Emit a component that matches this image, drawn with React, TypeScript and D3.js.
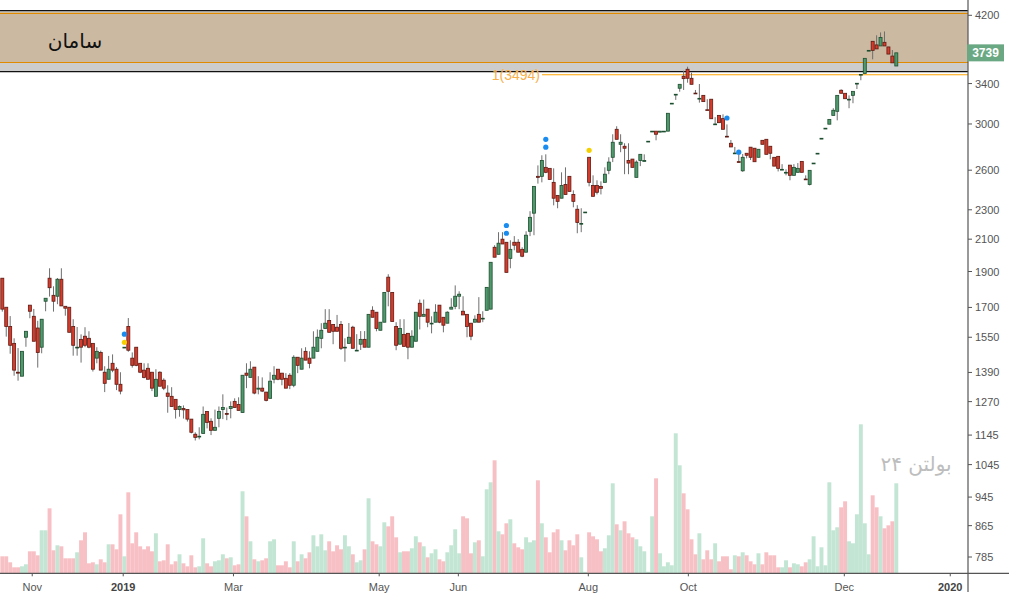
import React from 'react';
import * as d3 from 'd3';

// ---- data (daily candles, oldest first) ----
const OPEN = [1861,1701,1603,1521,1391,1374,1550,1712,1654,1595,1503,1733,1861,1765,1760,1855,1706,1701,1603,1501,1540,1555,1545,1521,1453,1479,1391,1361,1430,1404,1340,1501,1603,1453,1503,1430,1400,1408,1391,1291,1391,1357,1304,1291,1279,1239,1243,1239,1203,1148,1140,1151,1232,1195,1162,1206,1239,1224,1243,1271,1259,1228,1387,1369,1413,1320,1324,1308,1283,1361,1404,1387,1365,1378,1336,1457,1404,1484,1453,1453,1484,1545,1593,1633,1613,1599,1613,1501,1521,1599,1487,1517,1540,1503,1685,1675,1584,1624,1867,1781,1603,1517,1564,1569,1503,1531,1722,1654,1691,1617,1624,1712,1649,1619,1691,1706,1760,1680,1664,1619,1624,1664,1642,1685,1691,2048,2004,2100,2080,1979,2080,2080,2035,2017,2152,2276,2551,2551,2623,2615,2504,2405,2384,2488,2551,2412,2304,2202,2282,2706,2480,2480,2473,2504,2599,2706,2951,2817,2800,2680,2691,2543,2680,2672,2842,2932,2934,2925,2932,2934,3197,3287,3351,3478,3554,3456,3301,3246,3278,3135,3239,2998,3081,3050,2888,2826,2738,2670,2595,2740,2792,2783,2706,2852,2861,2800,2706,2714,2605,2581,2641,2559,2583,2672,2530,2488,2656,2738,2868,2959,2998,3081,3120,3330,3299,3237,3278,3401,3496,3508,3766,3875,3832,3820,3863,3808,3702,3590];
const HIGH = [1861,1701,1655,1545,1499,1484,1579,1712,1692,1631,1639,1749,1919,1815,1862,1919,1706,1701,1639,1600,1564,1599,1579,1521,1503,1487,1417,1463,1470,1413,1391,1503,1645,1479,1503,1430,1430,1430,1391,1404,1395,1365,1336,1328,1279,1255,1255,1239,1203,1155,1173,1251,1232,1206,1239,1251,1299,1247,1271,1283,1287,1378,1430,1439,1413,1374,1369,1308,1391,1417,1404,1387,1387,1387,1466,1457,1498,1503,1484,1579,1588,1619,1691,1691,1613,1661,1630,1545,1620,1606,1565,1580,1580,1664,1706,1675,1624,1781,1884,1781,1624,1639,1639,1569,1584,1675,1742,1742,1691,1654,1717,1712,1649,1680,1749,1820,1787,1760,1664,1619,1659,1755,1680,1809,1955,2061,2146,2146,2080,2093,2120,2100,2048,2152,2290,2473,2639,2723,2731,2615,2615,2405,2583,2623,2551,2443,2333,2311,2284,2706,2559,2520,2512,2623,2706,2906,2979,2906,2826,2826,2691,2680,2731,2731,2844,2934,2934,2934,2934,3101,3199,3289,3392,3538,3582,3516,3333,3395,3278,3239,3239,3064,3081,3091,2996,2855,2794,2740,2734,2740,2792,2783,2774,2852,2861,2800,2706,2714,2649,2607,2641,2649,2658,2672,2559,2599,2658,2740,2870,2961,3043,3150,3278,3340,3299,3278,3319,3403,3498,3676,3768,3875,3948,3983,3995,3808,3772,3739];
const LOW = [1678,1553,1473,1376,1355,1374,1505,1644,1531,1411,1475,1680,1758,1678,1717,1708,1657,1574,1464,1464,1433,1503,1498,1394,1430,1400,1308,1361,1391,1316,1299,1501,1482,1411,1417,1387,1365,1361,1312,1291,1332,1316,1227,1251,1205,1212,1205,1194,1151,1126,1130,1151,1169,1145,1162,1173,1203,1199,1206,1247,1236,1228,1324,1369,1299,1299,1308,1271,1283,1344,1357,1336,1324,1320,1328,1387,1404,1444,1408,1453,1484,1498,1593,1574,1517,1579,1490,1437,1521,1498,1487,1490,1503,1503,1649,1579,1584,1624,1706,1628,1489,1517,1507,1448,1503,1531,1588,1654,1599,1569,1624,1619,1574,1619,1691,1691,1691,1661,1550,1536,1624,1624,1624,1685,1691,1986,2004,2069,1895,1919,2029,2017,1986,2017,2120,2126,2494,2504,2576,2527,2332,2311,2384,2412,2435,2318,2139,2146,2282,2473,2398,2412,2412,2504,2568,2666,2861,2749,2568,2568,2623,2543,2633,2672,2842,2932,2852,2925,2932,2934,3197,3232,3315,3333,3409,3392,3299,3205,3215,3133,3049,2998,3012,2951,2884,2794,2738,2664,2587,2697,2683,2669,2706,2817,2731,2689,2633,2590,2605,2559,2520,2559,2583,2583,2525,2480,2656,2738,2868,2959,2998,3081,3034,3299,3244,3150,3199,3343,3435,3508,3766,3665,3785,3820,3820,3725,3625,3590];
const CLOSE = [1691,1603,1512,1400,1387,1484,1579,1680,1531,1479,1639,1749,1807,1733,1855,1708,1696,1574,1512,1503,1503,1512,1503,1404,1484,1400,1344,1404,1400,1340,1312,1503,1489,1421,1421,1391,1369,1361,1324,1361,1332,1324,1291,1251,1239,1251,1238,1203,1155,1137,1141,1221,1191,1162,1173,1232,1247,1221,1251,1247,1236,1378,1378,1404,1304,1324,1312,1275,1353,1378,1361,1361,1324,1336,1457,1421,1453,1444,1430,1503,1550,1584,1619,1574,1579,1579,1498,1503,1550,1498,1489,1540,1503,1664,1649,1593,1624,1781,1787,1628,1512,1593,1507,1503,1555,1675,1654,1664,1624,1619,1675,1624,1609,1675,1701,1760,1771,1661,1603,1555,1639,1624,1644,1809,1955,1986,2074,2069,1895,2035,2061,2017,1992,2126,2247,2473,2543,2680,2583,2527,2384,2361,2480,2412,2435,2361,2212,2205,2284,2504,2398,2428,2458,2568,2666,2835,2861,2835,2783,2658,2623,2666,2731,2680,2844,2934,2906,2934,2934,3101,3199,3289,3392,3452,3456,3392,3299,3248,3215,3133,3049,3000,3012,2951,2884,2794,2742,2664,2706,2723,2706,2669,2774,2817,2731,2740,2633,2615,2607,2583,2559,2623,2615,2583,2525,2599,2658,2740,2870,2961,3043,3130,3278,3299,3244,3239,3319,3403,3498,3676,3768,3768,3785,3921,3820,3725,3625,3739];
const VOLUME = [17,17,11,6,6,7,9,22,22,18,43,43,65,23,28,27,15,15,15,21,33,41,10,11,9,14,11,29,29,24,59,17,81,30,41,27,24,27,22,40,12,13,29,9,12,19,10,7,18,6,7,35,10,7,12,13,19,15,16,8,9,82,57,32,14,12,13,15,32,34,8,8,12,6,32,12,19,15,21,38,27,39,23,32,22,28,24,38,27,19,11,13,24,75,32,29,27,51,47,57,36,21,22,22,25,37,31,27,16,20,24,14,12,21,28,44,20,57,55,20,31,33,17,84,91,113,42,39,50,54,30,26,24,36,31,33,93,50,36,21,41,44,33,23,33,28,39,16,1.5,41,37,34,22,25,38,90,49,43,52,40,36,34,27,22,1.5,57,95,20,7,11,8,140,108,80,64,34,19,40,14,23,14,30,12,17,17,4,18,17,21,18,12,9,20,9,21,18,18,6,6,13,6,10,9,7,11,14,37,7,26,8,91,43,46,66,72,32,30,59,149,50,19,78,66,57,45,48,52,90];

const Y_TICKS = [4200, 3400, 3000, 2600, 2300, 2100, 1900, 1700, 1550, 1390, 1270, 1145, 1045, 945, 865, 785];
const X_TICK_POS = [7.6, 30.7, 58.7, 95.7, 115.8, 148.8, 174.2, 213.8, 240.7];
const X_TICK_LABELS = ['Nov', '2019', 'Mar', 'May', 'Jun', 'Aug', 'Oct', 'Dec', '2020'];
const BLUE_SIGNALS: [number, number][] = [[31, 1565], [128, 2191], [128, 2139], [138, 2861], [138, 2792], [184, 3056], [187, 2749]];
const YELLOW_SIGNALS: [number, number][] = [[31, 1526], [149, 2765]];
const ZONE_OUTER = [3527, 4260];
const ZONE_INNER = [3629, 4226];
const LEVEL = 3494;
const LEVEL_LABEL = '1(3494)';
const LAST_PRICE = 3739;
const TITLE = 'سامان';
const WATERMARK = 'بولتن ۲۴';

export default function App() {
  const W = 1020, H = 603;
  const plotRight = 968;
  const n = CLOSE.length;
  const x = d3.scaleLinear().domain([0, n - 1]).range([2.3, 896.3]);
  const step = x(1) - x(0);
  const y = d3.scaleLog().domain([785, 4200]).range([557, 15.3]);
  const axisY = 573.3;
  const v = d3.scaleLinear().domain([0, 150]).range([axisY, axisY - 150]);
  const idx = d3.range(n);
  const axisFont = '"Liberation Sans", Arial, sans-serif';

  return (
    <div style={{ position: 'fixed', left: 0, top: 0, width: W, height: H, background: '#fff' }}>
      <svg width={W} height={H} style={{ display: 'block' }}>
        <defs>
          <clipPath id="plot"><rect x={0} y={0} width={plotRight} height={H} /></clipPath>
        </defs>
        {/* zones */}
        <rect x={0} y={y(ZONE_OUTER[1])} width={plotRight} height={y(ZONE_OUTER[0]) - y(ZONE_OUTER[1])} fill="#cccccc" />
        <line x1={0} x2={plotRight} y1={y(ZONE_OUTER[1])} y2={y(ZONE_OUTER[1])} stroke="#111" strokeWidth={1.2} />
        <line x1={0} x2={plotRight} y1={y(ZONE_OUTER[0])} y2={y(ZONE_OUTER[0])} stroke="#111" strokeWidth={1.2} />
        <rect x={0} y={y(ZONE_INNER[1])} width={plotRight} height={y(ZONE_INNER[0]) - y(ZONE_INNER[1])} fill="#cbb9a1" />
        <line x1={0} x2={plotRight} y1={y(ZONE_INNER[1])} y2={y(ZONE_INNER[1])} stroke="#e08a00" strokeWidth={1.2} />
        <line x1={0} x2={plotRight} y1={y(ZONE_INNER[0])} y2={y(ZONE_INNER[0])} stroke="#e08a00" strokeWidth={1.2} />
        {/* level */}
        <line x1={542} x2={plotRight} y1={y(LEVEL)} y2={y(LEVEL)} stroke="#ffa500" strokeWidth={1.2} />
        <text x={540} y={y(LEVEL) + 5} textAnchor="end" fontSize={14} fontFamily={axisFont} fill="#f7b04c">{LEVEL_LABEL}</text>
        <text x={75} y={48} textAnchor="middle" fontSize={20} fontFamily='"DejaVu Sans", sans-serif' fill="#111">{TITLE}</text>

        <g clipPath="url(#plot)">
          {/* volume */}
          {idx.map(i => (
            <rect key={'v' + i} x={x(i) - step / 2} y={v(VOLUME[i])} width={step} height={axisY - v(VOLUME[i])}
              fill={CLOSE[i] >= OPEN[i] ? '#c3e6d4' : '#f7c0c5'} />
          ))}
          {/* candles */}
          {idx.map(i => {
            const up = CLOSE[i] >= OPEN[i];
            const top = y(Math.max(OPEN[i], CLOSE[i]));
            const bot = y(Math.min(OPEN[i], CLOSE[i]));
            const h = Math.max(bot - top, 0.8);
            return (
              <g key={'c' + i}>
                <line x1={x(i)} x2={x(i)} y1={y(HIGH[i])} y2={y(LOW[i])} stroke="#6f6f6f" strokeWidth={1} />
                <rect x={x(i) - 1.5} y={top} width={3} height={h}
                  fill={up ? '#4f9a6c' : '#d83b2b'} stroke={up ? '#1d4d2f' : '#5c1a12'} strokeWidth={0.8} />
              </g>
            );
          })}
          {BLUE_SIGNALS.map(([i, p], k) => <circle key={'b' + k} cx={x(i)} cy={y(p)} r={2.6} fill="#1a8cf0" />)}
          {YELLOW_SIGNALS.map(([i, p], k) => <circle key={'yl' + k} cx={x(i)} cy={y(p)} r={2.6} fill="#f5d000" />)}
        </g>

        <text x={916} y={471} textAnchor="middle" fontSize={20} fontFamily='"DejaVu Sans", sans-serif' fill="#bdbdbd">{WATERMARK}</text>

        {/* axes */}
        <line x1={plotRight} x2={plotRight} y1={0} y2={592} stroke="#555" strokeWidth={1.2} />
        <line x1={0} x2={1009} y1={axisY} y2={axisY} stroke="#555" strokeWidth={1.2} />
        {Y_TICKS.map(t => (
          <g key={'yt' + t}>
            <line x1={plotRight} x2={plotRight + 4} y1={y(t)} y2={y(t)} stroke="#555" />
            <text x={975} y={y(t) + 4} fontSize={11} fontFamily={axisFont} fill="#555">{t}</text>
          </g>
        ))}
        {X_TICK_POS.map((p, k) => {
          const bold = /^\d+$/.test(X_TICK_LABELS[k]);
          return (
            <g key={'xt' + k}>
              <line x1={x(p)} x2={x(p)} y1={axisY} y2={axisY + 3} stroke="#555" />
              <text x={x(p)} y={591} textAnchor="middle" fontSize={11} fontWeight={bold ? 'bold' : 'normal'}
                fontFamily={axisFont} fill={bold ? '#444' : '#555'}>{X_TICK_LABELS[k]}</text>
            </g>
          );
        })}
        {/* last price label */}
        <rect x={plotRight - 1} y={y(LAST_PRICE) - 8.5} width={37} height={17} fill="#6aa884" />
        <text x={plotRight + 17.5} y={y(LAST_PRICE) + 4.5} textAnchor="middle" fontSize={12} fontWeight="bold"
          fontFamily={axisFont} fill="#fff">{LAST_PRICE}</text>
      </svg>
    </div>
  );
}
